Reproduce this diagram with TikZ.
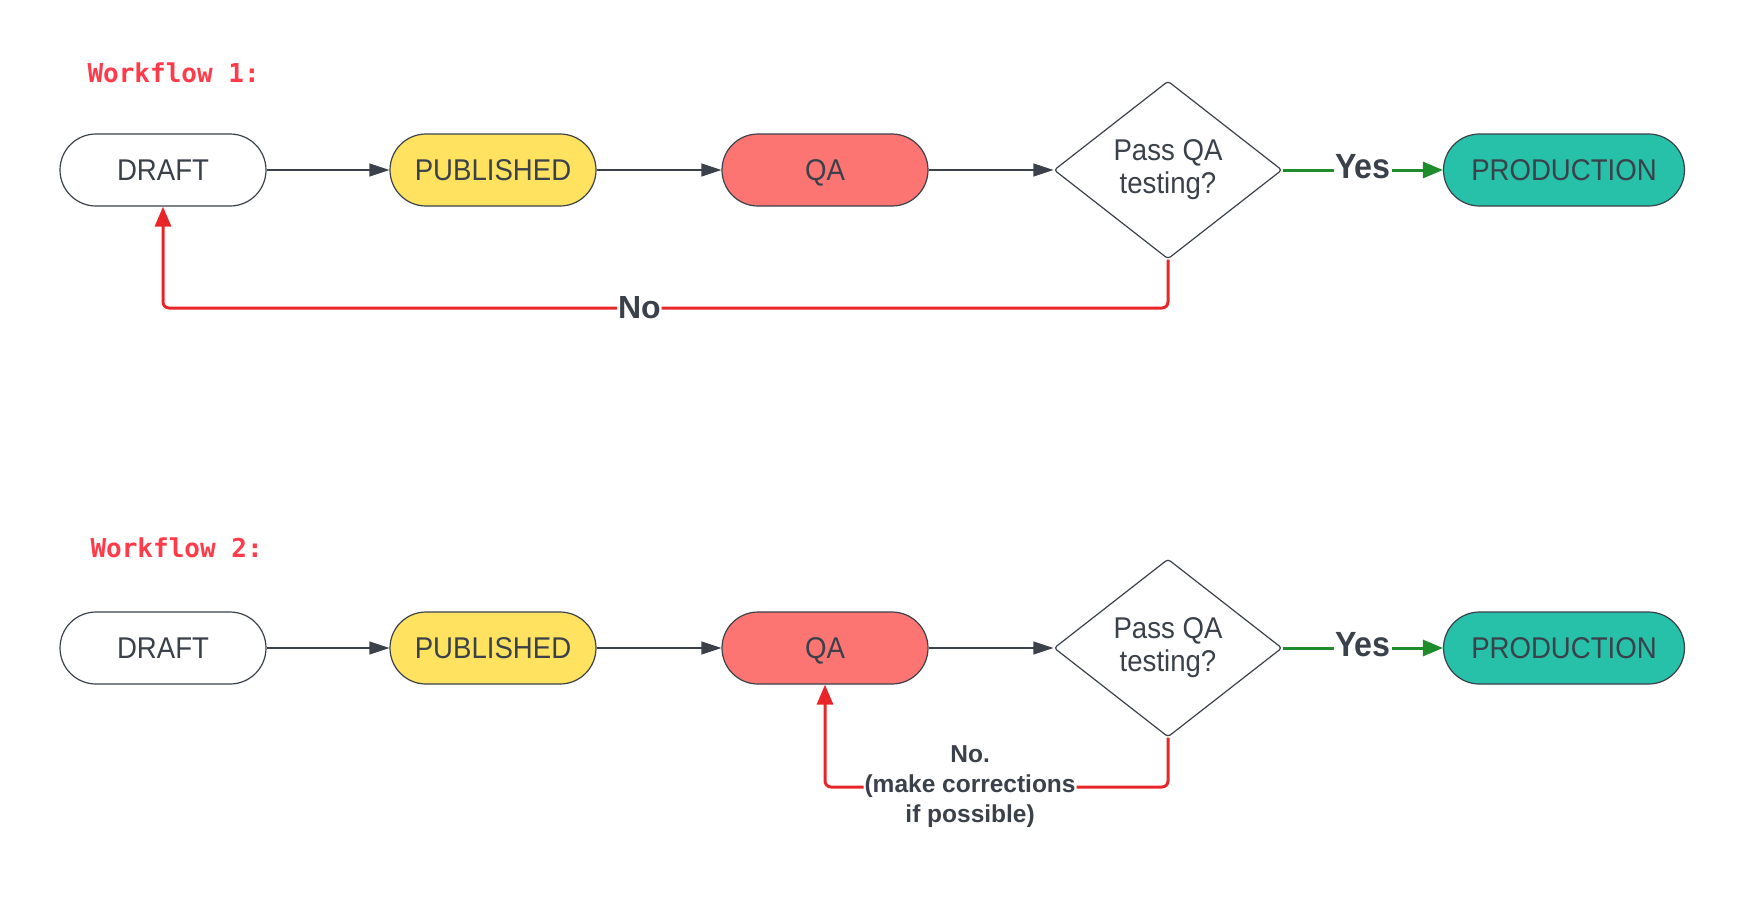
\documentclass[tikz,border=0pt]{standalone}
\usepackage{fontspec}
\setmainfont{Liberation Sans}
\newfontfamily\boxfont{Liberation Sans}[FakeStretch=0.92]
\newfontfamily\codefont{DejaVu Sans Mono}
\usetikzlibrary{shapes.geometric,arrows.meta}

\definecolor{inkgray}{HTML}{3A414A}
\definecolor{pubyellow}{HTML}{FFE25F}
\definecolor{qared}{HTML}{FD7573}
\definecolor{prodgreen}{HTML}{27C1A9}
\definecolor{loopred}{HTML}{E8262A}
\definecolor{yesgreen}{HTML}{1E8C2A}
\definecolor{titlered}{HTML}{FF3B4A}

\begin{document}
\begin{tikzpicture}[
    x=1pt, y=-1pt,
    state/.style={rectangle, draw=inkgray, line width=1.2pt, rounded corners=36pt, minimum height=72pt, minimum width=206pt, inner sep=0pt, text height=21pt, text depth=0pt, text=inkgray, font=\boxfont\fontsize{30}{34}\selectfont, fill=white},
    check/.style={diamond, draw=inkgray, line width=1.2pt, rounded corners=3pt, minimum width=228pt, minimum height=178pt, inner sep=0pt, align=center, text=inkgray, font=\boxfont\fontsize{30}{33}\selectfont, fill=white},
    wftitle/.style={anchor=west, text=titlered, font=\codefont\bfseries\fontsize{26}{30}\selectfont},
    flow/.style={draw=inkgray, line width=1.2pt, -{Triangle[length=20pt,width=13pt]}},
    noloop/.style={draw=loopred, line width=3pt, rounded corners=6pt, -{Triangle[length=20pt,width=16pt]}},
    yesline/.style={draw=yesgreen, line width=3pt, -{Triangle[length=20pt,width=16pt]}},
    yeslabel/.style={fill=white, inner sep=1pt, text=inkgray, font=\boxfont\bfseries\fontsize{35}{38}\selectfont},
    nolabel/.style={fill=white, inner sep=1pt, text=inkgray, align=center, font=\bfseries\fontsize{32}{36}\selectfont},
    fixlabel/.style={fill=white, inner sep=1pt, text=inkgray, align=center, font=\bfseries\fontsize{24.5}{30}\selectfont}
]
\useasboundingbox (0,0) rectangle (1742,898);

% Workflow 1
\node[wftitle] (wf1) at (84,73) {Workflow 1:};

\node[state] (draft1) at (163,170) {DRAFT};
\node[state, fill=pubyellow] (pub1) at (493,170) {PUBLISHED};
\node[state, fill=qared] (qa1) at (825,170) {QA};
\node[check] (test1) at (1168,170) {Pass QA\\testing?};
\node[state, fill=prodgreen, minimum width=241pt] (prod1) at (1564,170) {PRODUCTION};

\draw[flow] (draft1) -- (pub1);
\draw[flow] (pub1) -- (qa1);
\draw[flow] (qa1) -- (test1);
\draw[yesline] (test1) -- node[yeslabel, yshift=3pt] {Yes} (prod1);

% back to draft
\coordinate (low1) at (0,308);
\draw[noloop] (test1.south) -- (test1.south |- low1) -- node[nolabel, pos=0.526] {No} (draft1.south |- low1) -- (draft1.south);

% Workflow 2
\node[wftitle] (wf2) at (87,548) {Workflow 2:};

\node[state] (draft2) at (163,648) {DRAFT};
\node[state, fill=pubyellow] (pub2) at (493,648) {PUBLISHED};
\node[state, fill=qared] (qa2) at (825,648) {QA};
\node[check] (test2) at (1168,648) {Pass QA\\testing?};
\node[state, fill=prodgreen, minimum width=241pt] (prod2) at (1564,648) {PRODUCTION};

\draw[flow] (draft2) -- (pub2);
\draw[flow] (pub2) -- (qa2);
\draw[flow] (qa2) -- (test2);
\draw[yesline] (test2) -- node[yeslabel, yshift=3pt] {Yes} (prod2);

% back to QA only
\coordinate (low2) at (0,787);
\draw[noloop] (test2.south) -- (test2.south |- low2) -- node[fixlabel, pos=0.577] {No.\\(make corrections\\if possible)} (qa2.south |- low2) -- (qa2.south);

\end{tikzpicture}
\end{document}
